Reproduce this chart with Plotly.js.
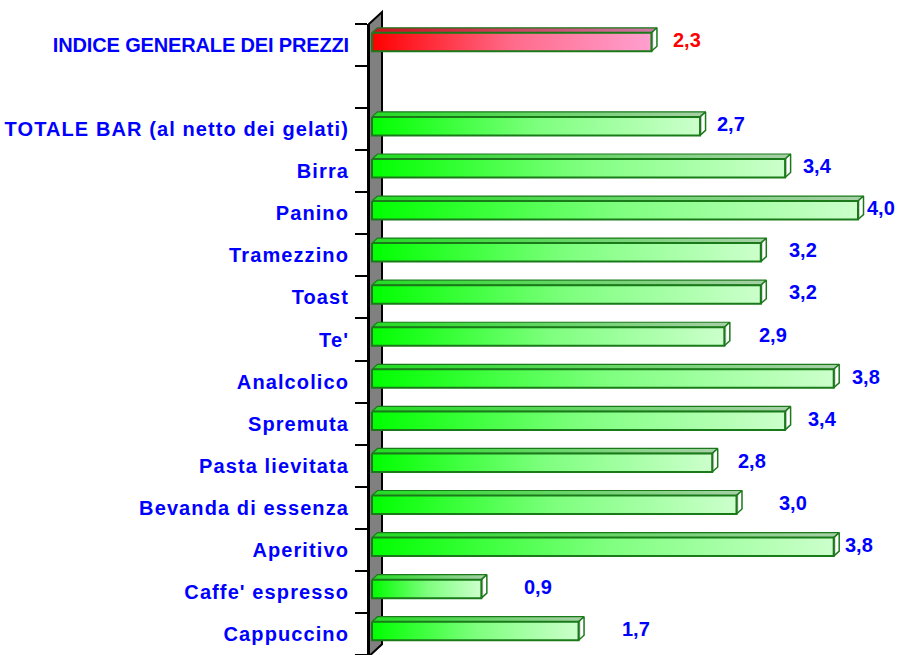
<!DOCTYPE html>
<html>
<head>
<meta charset="utf-8">
<script src="https://cdn.plot.ly/plotly-3.0.1.min.js"></script>
<style>
  html, body { margin: 0; padding: 0; background: #ffffff; }
  #chart { width: 906px; height: 655px; }
  #chart .ytick text { letter-spacing: 1.1px; }
</style>
</head>
<body>
<div id="chart"></div>
<script>
// ---- data (top to bottom; the empty category is the gap row) ----
var categories = [
  'INDICE GENERALE DEI PREZZI',
  '',
  'TOTALE BAR (al netto dei gelati)',
  'Birra',
  'Panino',
  'Tramezzino',
  'Toast',
  "Te'",
  'Analcolico',
  'Spremuta',
  'Pasta lievitata',
  'Bevanda di essenza',
  'Aperitivo',
  "Caffe' espresso",
  'Cappuccino'
];
var values = [2.3, null, 2.7, 3.4, 4.0, 3.2, 3.2, 2.9, 3.8, 3.4, 2.8, 3.0, 3.8, 0.9, 1.7];

// label placement nudges (pixels to the right of the bar end)
var labelNudge = [20, 0, 15, 16, 7, 26, 26, 33, 16, 21, 24, 40, 9, 41, 41];

// ---- geometry / styles ----
var pxPerX = 121.5;                 // pixels per unit on the value axis
var plotW = 906 - 369;
var plotH = 655 - 24;
var pxPerSlot = plotH / categories.length;
var faceH = 18.5 / pxPerSlot;       // front face height in slot units
var dx = 5.5 / pxPerX;              // depth offset (x)
var dy = 5 / pxPerSlot;             // depth offset (y)
var lift = 3 / pxPerSlot;           // bars sit slightly above slot centre
var outline = '#1a7a1a';

var greenFront = [[0, '#00ff00'], [0.5, '#7dff7d'], [1, '#ccffcc']];
var greenTop = [[0, '#22dd22'], [1, '#a9cfa9']];
var redFront = [[0, '#ff0000'], [0.5, '#ff6a8a'], [1, '#ffa0d0']];
var redTop = [[0, '#cc1020'], [1, '#cc7aa6']];
var endScale = [[0, '#8a8a8a'], [0.45, '#ffffff'], [1, '#ffffff']];

function fmt(v) { return v.toFixed(1).replace('.', ','); }

var traces = [];
var annotations = [];
for (var i = 0; i < categories.length; i++) {
  var v = values[i];
  if (v === null) continue;
  var yc = i - lift;
  var yt = yc - faceH / 2;
  var yb = yc + faceH / 2;
  var isRed = (i === 0);
  // top face
  traces.push({
    type: 'scatter', mode: 'lines', fill: 'toself', hoverinfo: 'skip', showlegend: false,
    x: [0, v, v + dx, dx, 0],
    y: [yt, yt, yt - dy, yt - dy, yt],
    line: { color: outline, width: 1.2 },
    fillgradient: { type: 'horizontal', colorscale: isRed ? redTop : greenTop }
  });
  // end face
  traces.push({
    type: 'scatter', mode: 'lines', fill: 'toself', hoverinfo: 'skip', showlegend: false,
    x: [v, v + dx, v + dx, v, v],
    y: [yt, yt - dy, yb - dy, yb, yt],
    line: { color: outline, width: 1.5 },
    fillgradient: { type: 'horizontal', colorscale: endScale }
  });
  // front face
  traces.push({
    type: 'scatter', mode: 'lines', fill: 'toself', hoverinfo: 'skip', showlegend: false,
    name: categories[i],
    x: [0, v, v, 0, 0],
    y: [yt, yt, yb, yb, yt],
    line: { color: outline, width: 2 },
    fillgradient: { type: 'horizontal', colorscale: isRed ? redFront : greenFront }
  });
  annotations.push({
    x: v, y: yc, xref: 'x', yref: 'y',
    xanchor: 'left', yanchor: 'middle',
    xshift: labelNudge[i], yshift: 2,
    showarrow: false,
    text: fmt(v),
    font: { family: 'Liberation Sans, Arial, sans-serif', size: 20, weight: 700,
            color: isRed ? '#ff0000' : '#0000ff' }
  });
}

var tickvals = [], ticktext = [], bounds = [];
for (var k = 0; k < categories.length; k++) {
  if (categories[k] === '') continue;
  tickvals.push(k);
  // the headline label is set tighter than the others
  ticktext.push(k === 0 ? '<span style="letter-spacing:-0.15px">' + categories[k] + '</span>'
                        : categories[k]);
}
for (var b = 0; b <= categories.length; b++) bounds.push(b - 0.5);

// side wall (paper coordinates)
var wx = (382 - 369) / plotW;
var wTop = 12 / plotH;
var wallPath = 'M 0,1 L ' + wx + ',' + (1 + wTop) + ' L ' + wx + ',' + (wTop - 0.002) +
               ' L 0,-0.002 Z';

var layout = {
  width: 906, height: 655,
  margin: { l: 369, r: 0, t: 24, b: 0, pad: 0 },
  paper_bgcolor: '#ffffff',
  plot_bgcolor: 'rgba(0,0,0,0)',
  showlegend: false,
  font: { family: 'Liberation Sans, Arial, sans-serif' },
  xaxis: {
    range: [-3 / pxPerX, (plotW - 3) / pxPerX],
    visible: false, fixedrange: true
  },
  yaxis: {
    range: [categories.length - 0.5, -0.5],
    tickmode: 'array', tickvals: tickvals, ticktext: ticktext,
    ticks: '', showgrid: false, zeroline: false,
    showline: true, linecolor: '#000000', linewidth: 2,
    ticklabelstandoff: 14,
    tickfont: { family: 'Liberation Sans, Arial, sans-serif', size: 20, weight: 700, color: '#0000ff' },
    minor: { tickmode: 'array', tickvals: bounds, ticks: 'outside', ticklen: 12,
             tickwidth: 2, tickcolor: '#000000', showgrid: false },
    fixedrange: true
  },
  shapes: [{
    type: 'path', xref: 'paper', yref: 'paper', layer: 'below',
    path: wallPath, fillcolor: '#808080', line: { color: '#000000', width: 2 }
  }],
  annotations: annotations
};

Plotly.newPlot('chart', traces, layout, { displayModeBar: false, staticPlot: true });
</script>
</body>
</html>
